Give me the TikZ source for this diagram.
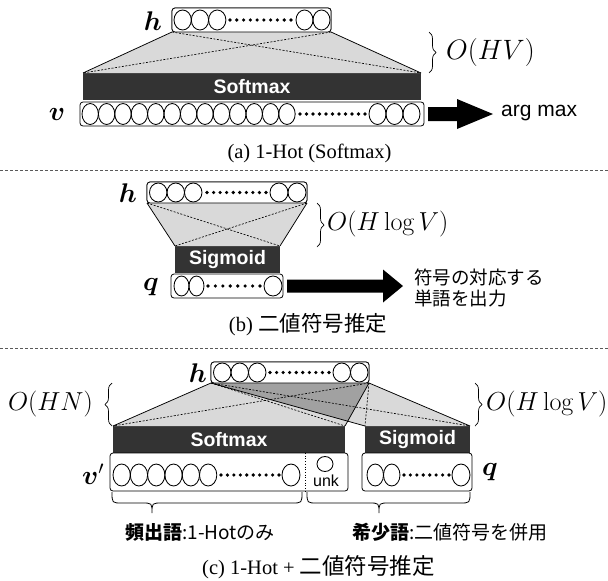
\RequirePackage{fix-cm}
\documentclass[tikz,border=0pt]{standalone}
\usepackage{fontspec}
\usepackage{bm}
\usetikzlibrary{calc,decorations.pathreplacing}
\newfontfamily\sansf{Liberation Sans}
\newfontfamily\seriff{Liberation Serif}
\newfontfamily\cjk{Noto Sans CJK JP}

% a row of unit ellipses: x start, y centre, count, width, y radius
\newcommand\urow[5]{%
  \foreach \k in {1,...,#3}{%
    \draw[unit] ({#1+(\k-0.5)*#4},#2) ellipse [x radius={#4/2*1pt}, y radius={#5*1pt}];}}
% a row of small dots: x from, x to, y, count minus one
\newcommand\drow[4]{%
  \foreach \k in {0,...,#4}{%
    \fill ({#1+\k*(#2-#1)/#4},#3) circle [radius=1.8pt];}}

\begin{document}
\begin{tikzpicture}[x=1pt,y=-1pt,
  unitbox/.style={draw, rounded corners=3pt, line width=0.8pt, fill=white,
    inner sep=0pt, outer sep=0pt},
  actbox/.style={fill=black!80, draw=none, inner sep=0pt, outer sep=0pt,
    text=white, font=\sansf\bfseries\fontsize{19.5}{21}\selectfont},
  unit/.style={line width=0.85pt},
  trap/.style={fill=black!15},
  trapdark/.style={fill=black!37},
  edge/.style={line width=0.75pt},
  diag/.style={line width=0.65pt, dash pattern=on 2pt off 1.5pt},
  mlab/.style={inner sep=0pt, font=\fontsize{27}{30}\selectfont},
  olab/.style={inner sep=0pt, font=\fontsize{26}{30}\selectfont},
  captext/.style={inner sep=0pt, font=\seriff\fontsize{20.5}{24}\selectfont},
  capjp/.style={font=\cjk\fontsize{22}{24}\selectfont},
  jtext/.style={inner sep=0pt, font=\cjk\fontsize{18.5}{21}\selectfont},
  sepline/.style={draw=black!65, line width=0.8pt, dash pattern=on 3pt off 2pt},
  bracedec/.style={decorate, decoration={brace, amplitude=7pt}, line width=0.7pt},
  underbrace/.style={line width=0.8pt},
  bigarrow/.style={fill=black}
]
\useasboundingbox (0,0) rectangle (608,581);
\fill[white] (0,0) rectangle (608,581);

% ---------------- (a) 1-Hot (Softmax) ----------------
\node[actbox, minimum width=338pt, minimum height=27pt] (sma) at (252,86.5) {Softmax};
\node[unitbox, minimum width=159pt, minimum height=24pt] (ha) at (251.5,20) {};
\fill[trap] (ha.south west) -- (ha.south east) -- (sma.north east) -- (sma.north west) -- cycle;
\draw[edge] (ha.south west) -- (sma.north west);
\draw[edge] (ha.south east) -- (sma.north east);
\draw[diag] (ha.south west) -- (sma.north east);
\draw[diag] (ha.south east) -- (sma.north west);
\node[unitbox, minimum width=159pt, minimum height=24pt] (ha) at (251.5,20) {};
\urow{174}{20}{3}{17.3}{10}
\urow{296}{20}{2}{17}{10}
\drow{230}{291}{20}{9}
\node[unitbox, minimum width=344pt, minimum height=24pt] (va) at (252,114) {};
\urow{82}{114}{13}{16.4}{10.5}
\urow{369}{114}{3}{17}{10.5}
\drow{300}{365}{114}{10}
\node[mlab] (hla) at (153,21) {$\bm{h}$};
\node[mlab] (vla) at (57,114) {$\bm{v}$};
\draw[bracedec] (429,32) -- (429,73);
\node[olab, anchor=west, font=\fontsize{28}{30}\selectfont] (oa) at (446,52) {$O(HV)$};
\coordinate (aa) at ($(va.east)+(4,0)$);
\fill[bigarrow] (aa) ++(0,-7) -- ++(29,0) -- ++(0,-8) -- ++(36,15) -- ++(-36,15)
  -- ++(0,-8) -- ++(-29,0) -- cycle;
\node[anchor=west, inner sep=0pt, font=\sansf\fontsize{21}{24}\selectfont] (am) at (501,113) {arg max};
\node[captext] (capa) at (309.5,153) {(a) 1-Hot (Softmax)};
\draw[sepline] (0,170) -- (608,170);

% ---------------- (b) binary code ----------------
\node[actbox, minimum width=105pt, minimum height=27pt] (sgb) at (227.5,259.5) {Sigmoid};
\node[unitbox, minimum width=160pt, minimum height=21pt] (hb) at (227,192.5) {};
\fill[trap] (hb.south west) -- (hb.south east) -- (sgb.north east) -- (sgb.north west) -- cycle;
\draw[edge] (hb.south west) -- (sgb.north west);
\draw[edge] (hb.south east) -- (sgb.north east);
\draw[diag] (hb.south west) -- (sgb.north east);
\draw[diag] (hb.south east) -- (sgb.north west);
\node[unitbox, minimum width=160pt, minimum height=21pt] (hb) at (227,192.5) {};
\urow{149.5}{192.5}{3}{17.5}{9.5}
\urow{270}{192.5}{2}{18}{9.5}
\drow{207}{266}{192.5}{9}
\node[unitbox, minimum width=112pt, minimum height=24pt] (qb) at (227,286) {};
\urow{174}{286}{2}{15}{10}
\urow{264}{286}{1}{18}{10}
\drow{208}{260}{286}{7}
\node[mlab] (hlb) at (128,193) {$\bm{h}$};
\node[mlab] (qlb) at (151,287) {$\bm{q}$};
\draw[bracedec] (317,203) -- (317,247);
\node[olab, anchor=west] (ob) at (327,224) {$O(H\log V)$};
\coordinate (ab) at ($(qb.east)+(4,0)$);
\fill[bigarrow] (ab) ++(0,-6.5) -- ++(96,0) -- ++(0,-10) -- ++(20,16.5) -- ++(-20,16.5)
  -- ++(0,-10) -- ++(-96,0) -- cycle;
\node[jtext, anchor=west] (tb1) at (414,277) {符号の対応する};
\node[jtext, anchor=west] (tb2) at (414,298) {単語を出力};
\node[captext] (capb) at (308,325) {(b) {\cjk\fontsize{21.5}{24}\selectfont 二値符号推定}};
\draw[sepline] (0,348) -- (608,348);

% ---------------- (c) 1-Hot + binary code ----------------
\node[actbox, minimum width=232pt, minimum height=27pt] (smc) at (229,439.5) {Softmax};
\node[actbox, minimum width=105pt, minimum height=27pt] (sgc) at (417.5,439.5) {Sigmoid};
\node[unitbox, minimum width=158pt, minimum height=21pt] (hc) at (290,372.5) {};
\coordinate (xc) at (intersection of hc.south west--sgc.north west and hc.south east--smc.north east);
\fill[trap] (hc.south west) -- (hc.south east) -- (smc.north east) -- (smc.north west) -- cycle;
\fill[trap] (hc.south west) -- (hc.south east) -- (sgc.north east) -- (sgc.north west) -- cycle;
\fill[trapdark] (hc.south west) -- (hc.south east) -- (xc) -- cycle;
\draw[edge] (hc.south west) -- (smc.north west);
\draw[edge] (hc.south east) -- (smc.north east);
\draw[edge] (hc.south west) -- (sgc.north west);
\draw[edge] (hc.south east) -- (sgc.north east);
\draw[diag] (hc.south west) -- (smc.north east);
\draw[diag] (hc.south east) -- (smc.north west);
\draw[diag] (hc.south west) -- (sgc.north east);
\draw[diag] (hc.south east) -- (sgc.north west);
\node[unitbox, minimum width=158pt, minimum height=21pt] (hc) at (290,372.5) {};
\urow{213.5}{372.5}{3}{17.5}{9.5}
\urow{333}{372.5}{2}{17.5}{9.5}
\drow{270}{329}{372.5}{9}
\node[unitbox, minimum width=238pt, minimum height=38pt] (vpc) at (229,472) {};
\urow{113}{475}{6}{17.3}{11}
\urow{282}{475}{1}{18}{11}
\drow{221}{279}{475}{9}
\draw[line width=0.7pt, dotted] (305,453) -- (305,491);
\draw[unit] (325,464) ellipse [x radius=8pt, y radius=7.5pt];
\node[inner sep=0pt, font=\sansf\fontsize{16}{18}\selectfont] (unk) at (326,481) {unk};
\node[unitbox, minimum width=110pt, minimum height=38pt] (qc) at (417,472) {};
\urow{367}{475}{2}{16.5}{11}
\urow{452}{475}{1}{18}{11}
\drow{404}{449}{475}{7}
\node[mlab] (hlc) at (198,373) {$\bm{h}$};
\node[mlab] (vlc) at (93,474) {$\bm{v}'$};
\node[mlab] (qlc) at (490,472) {$\bm{q}$};
\draw[bracedec] (112,426) -- (112,383);
\node[olab, anchor=east] (oc1) at (93,404) {$O(HN)$};
\draw[bracedec] (475,383) -- (475,426);
\node[olab, anchor=west] (oc2) at (486,404) {$O(H\log V)$};
% under-braces of the two word groups
\draw[underbrace] (112,492) .. controls (112,503) .. (122,503) -- (142,503)
  .. controls (152,503) .. (152,513) .. controls (152,503) .. (162,503) -- (292,503)
  .. controls (302,503) .. (302,492);
\draw[underbrace] (307,492) .. controls (307,503) .. (317,503) -- (369,503)
  .. controls (379,503) .. (379,513) .. controls (379,503) .. (389,503) -- (460,503)
  .. controls (470,503) .. (470,492);
\node[inner sep=0pt, font=\cjk\fontsize{19}{21}\selectfont] (lf) at (200,532) {{\bfseries 頻出語}:1-Hotのみ};
\node[inner sep=0pt, anchor=west, font=\cjk\fontsize{19}{21}\selectfont] (lr) at (352,532) {{\bfseries 希少語}:二値符号を併用};
\node[captext] (capc) at (318.5,567) {(c) 1-Hot + {\cjk\fontsize{22.5}{24}\selectfont 二値符号推定}};
\end{tikzpicture}
\end{document}
